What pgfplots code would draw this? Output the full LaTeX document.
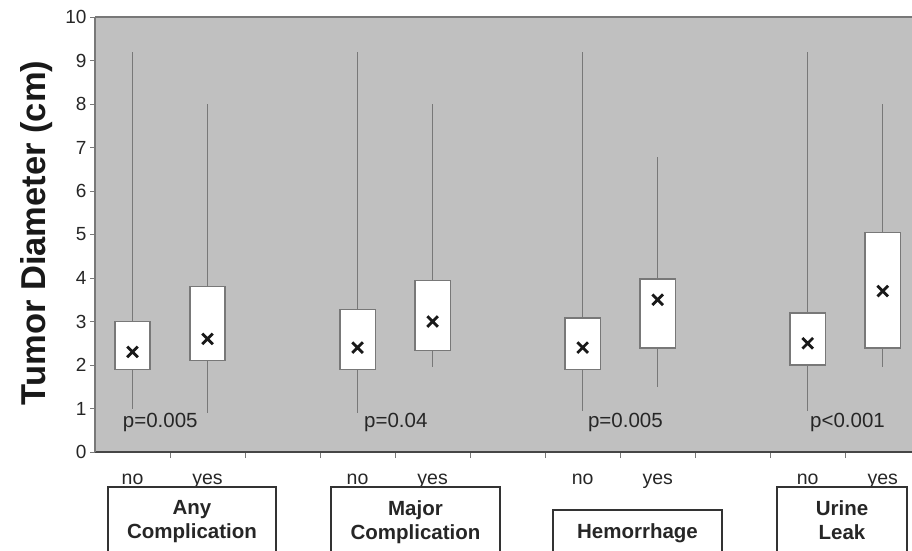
\documentclass[border=0pt]{standalone}
\usepackage{pgfplots}
\pgfplotsset{compat=1.18}
\usepgfplotslibrary{statistics}
\usepackage{fontspec}
\setmainfont{Liberation Sans}
\definecolor{bgc}{RGB}{192,192,192}
\definecolor{whc}{RGB}{120,120,120}
\definecolor{axc}{RGB}{70,70,70}
\begin{document}
\begin{tikzpicture}
\begin{axis}[
  at={(0pt,0pt)}, anchor=south west,
  scale only axis, width=817pt, height=435pt,
  xmin=-0.5, xmax=10.39, ymin=0, ymax=10,
  axis x line*=bottom, axis y line*=left,
  x axis line style={draw=axc, line width=1.6pt, -},
  y axis line style={draw=whc, line width=1.2pt, -},
  axis background/.style={fill=bgc},
  tick align=outside,
  ytick={0,1,...,10},
  major tick length=5pt, minor tick length=6pt,
  ytick style={draw=whc, line width=1pt},
  xtick={0,1,3,4,6,7,9,10},
  xticklabels={no,yes,no,yes,no,yes,no,yes},
  major x tick style={draw=none},
  minor xtick={0.5,1.5,2.5,3.5,4.5,5.5,6.5,7.5,8.5,9.5},
  minor x tick style={draw=whc, line width=1pt},
  /pgf/number format/assume math mode=true,
  yticklabel style={font=\fontsize{19}{21}\selectfont, text=black!85},
  xticklabel style={font=\fontsize{19.5}{21}\selectfont, text=black!85, yshift=-13pt},
  boxplot/draw direction=y,
  boxplot/box extend=0.47,
  boxplot/whisker extend=0,
  boxplot/draw/median/.code={},
  clip=false,
]
\draw[whc, line width=1.2pt] (rel axis cs:0,1) -- (rel axis cs:1,1);
\addplot[draw=whc, line width=1.4pt, fill=white, boxplot prepared={draw position=0, lower whisker=1.0, lower quartile=1.9, median=2.3, upper quartile=3.0, upper whisker=9.2}] coordinates {};
\addplot[draw=whc, line width=1.4pt, fill=white, boxplot prepared={draw position=1, lower whisker=0.9, lower quartile=2.1, median=2.6, upper quartile=3.8, upper whisker=8.0}] coordinates {};
\addplot[draw=whc, line width=1.4pt, fill=white, boxplot prepared={draw position=3, lower whisker=0.9, lower quartile=1.9, median=2.4, upper quartile=3.27, upper whisker=9.2}] coordinates {};
\addplot[draw=whc, line width=1.4pt, fill=white, boxplot prepared={draw position=4, lower whisker=1.95, lower quartile=2.34, median=3.0, upper quartile=3.94, upper whisker=8.0}] coordinates {};
\addplot[draw=whc, line width=1.4pt, fill=white, boxplot prepared={draw position=6, lower whisker=0.95, lower quartile=1.9, median=2.4, upper quartile=3.08, upper whisker=9.2}] coordinates {};
\addplot[draw=whc, line width=1.4pt, fill=white, boxplot prepared={draw position=7, lower whisker=1.5, lower quartile=2.39, median=3.5, upper quartile=3.98, upper whisker=6.78}] coordinates {};
\addplot[draw=whc, line width=1.4pt, fill=white, boxplot prepared={draw position=9, lower whisker=0.95, lower quartile=2.0, median=2.5, upper quartile=3.2, upper whisker=9.2}] coordinates {};
\addplot[draw=whc, line width=1.4pt, fill=white, boxplot prepared={draw position=10, lower whisker=1.95, lower quartile=2.39, median=3.7, upper quartile=5.05, upper whisker=8.0}] coordinates {};
\addplot[only marks, mark=x, mark size=7.5pt, line width=2.8pt, black!90] coordinates {(0,2.3) (1,2.6) (3,2.4) (4,3.0) (6,2.4) (7,3.5) (9,2.5) (10,3.7)};
\node[font=\fontsize{20.5}{22}\selectfont, text=black!85] at (axis cs:0.37,0.67) {p=0.005};
\node[font=\fontsize{20.5}{22}\selectfont, text=black!85] at (axis cs:3.51,0.67) {p=0.04};
\node[font=\fontsize{20.5}{22}\selectfont, text=black!85] at (axis cs:6.57,0.67) {p=0.005};
\node[font=\fontsize{20.5}{22}\selectfont, text=black!85] at (axis cs:9.53,0.67) {p<0.001};
\end{axis}
\node[rotate=90, font=\fontsize{34.5}{38}\selectfont\bfseries, text=black!90] at (-58pt,219pt) {Tumor Diameter (cm)};
\begin{scope}[line width=1.6pt, draw=black!80]
\draw (13pt,-35pt) rectangle (181pt,-120pt);
\draw (236pt,-35pt) rectangle (405pt,-120pt);
\draw (458pt,-58pt) rectangle (627pt,-120pt);
\draw (682pt,-35pt) rectangle (812pt,-120pt);
\end{scope}
\begin{scope}[every node/.style={font=\fontsize{20.5}{24}\selectfont\bfseries, align=center, text=black!85}]
\node at (97pt,-70pt) {Any\\Complication};
\node at (320.5pt,-70pt) {Major\\Complication};
\node at (542.5pt,-81pt) {Hemorrhage};
\node at (747pt,-68pt) {Urine\\Leak};
\end{scope}
\pgfresetboundingbox
\path[use as bounding box] (-95pt,-98pt) rectangle (817pt,452pt);
\end{tikzpicture}
\end{document}
